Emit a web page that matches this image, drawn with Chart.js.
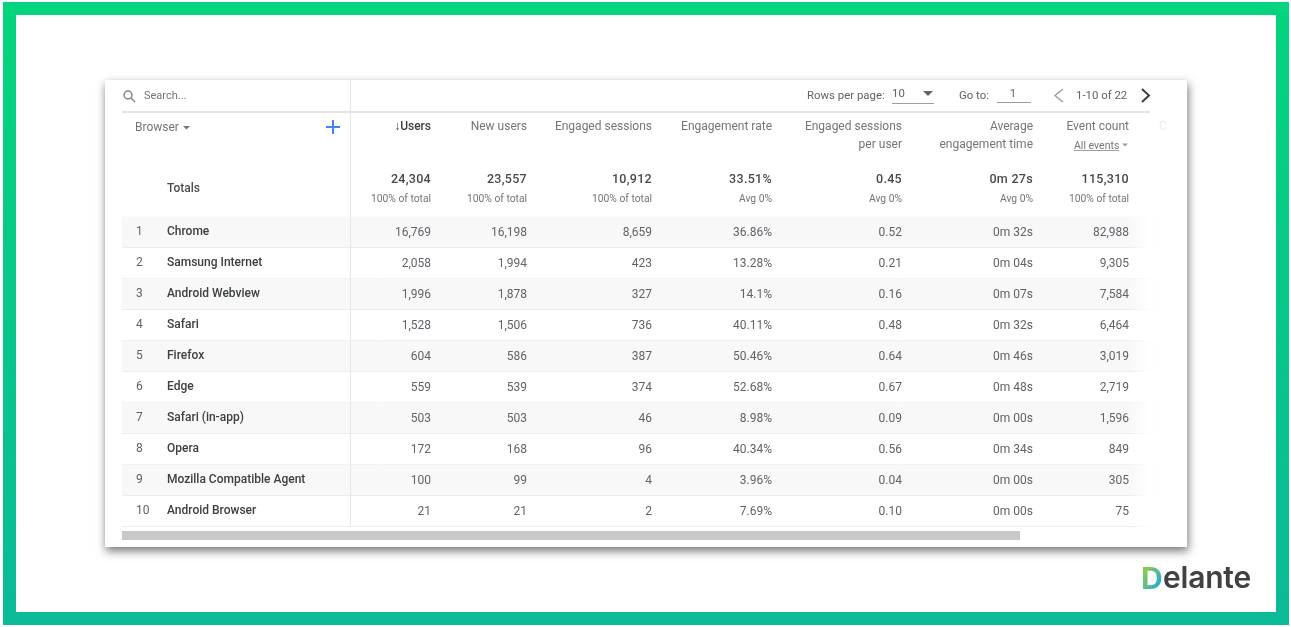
<!DOCTYPE html>
<html>
<head>
<meta charset="utf-8">
<title>Browser table</title>
<script src="https://cdn.jsdelivr.net/npm/chart.js@4/dist/chart.umd.min.js"></script>
<style>
  html, body { margin: 0; padding: 0; background: #fff; overflow: hidden; }
  #stage { position: relative; width: 1291px; height: 627px; }
  #frame { position: absolute; left: 3px; top: 2px; width: 1260px; height: 597px; border: 13px solid; border-image: linear-gradient(#04d47d, #0bba97) 1; }
  #card { position: absolute; left: 105px; top: 80px; width: 1082px; height: 467px; background: #fff; box-shadow: 1px 4px 9px rgba(0,0,0,.55); }
  canvas { position: absolute; left: 0; top: 0; }
</style>
</head>
<body>
<div id="stage">
  <div id="frame"></div>
  <div id="card"></div>
  <canvas id="chart" width="1291" height="627"></canvas>
</div>
<script>
// Datos de la tabla
const browsers = ['Chrome', 'Samsung Internet', 'Android Webview', 'Safari', 'Firefox', 'Edge', 'Safari (in-app)', 'Opera', 'Mozilla Compatible Agent', 'Android Browser'];
const columnNames = ['↓Users', 'New users', 'Engaged sessions', 'Engagement rate', ['Engaged sessions', 'per user'], ['Average', 'engagement time'], 'Event count'];
const users = [16769, 2058, 1996, 1528, 604, 559, 503, 172, 100, 21];
const newUsers = [16198, 1994, 1878, 1506, 586, 539, 503, 168, 99, 21];
const engagedSessions = [8659, 423, 327, 736, 387, 374, 46, 96, 4, 2];
const engagementRate = [36.86, 13.28, 14.1, 40.11, 50.46, 52.68, 8.98, 40.34, 3.96, 7.69];
const sessionsPerUser = [0.52, 0.21, 0.16, 0.48, 0.64, 0.67, 0.09, 0.56, 0.04, 0.10];
const engagementSeconds = [32, 4, 7, 32, 46, 48, 0, 34, 0, 0];
const eventCount = [82988, 9305, 7584, 6464, 3019, 2719, 1596, 849, 305, 75];
const totals = [24304, 23557, 10912, 33.51, 0.45, 27, 115310];
const totalNotes = ['100% of total', '100% of total', '100% of total', 'Avg 0%', 'Avg 0%', 'Avg 0%', '100% of total'];

// Layout: borde derecho de cada columna, en pixeles
const columnEdges = [431, 527, 652, 772, 902, 1033, 1129];

const fmtInt = v => v.toLocaleString('en-US');
const fmtPct = v => v + '%';
const fmtRatio = v => v.toFixed(2);
const fmtTime = v => '0m ' + String(v).padStart(2, '0') + 's';
const formats = [fmtInt, fmtInt, fmtInt, fmtPct, fmtRatio, fmtTime, fmtInt];
const series = [users, newUsers, engagedSessions, engagementRate, sessionsPerUser, engagementSeconds, eventCount];

function label(ctx, text, x, y, font, color, align = 'left', spacing = '0px') {
  ctx.font = font;
  ctx.fillStyle = color;
  ctx.textAlign = align;
  ctx.textBaseline = 'middle';
  ctx.letterSpacing = spacing;
  ctx.fillText(text, x, y);
  ctx.letterSpacing = '0px';
}

function line(ctx, x1, y1, x2, y2, color, width = 1) {
  ctx.strokeStyle = color;
  ctx.lineWidth = width;
  ctx.beginPath();
  ctx.moveTo(x1, y1);
  ctx.lineTo(x2, y2);
  ctx.stroke();
}

function triangle(ctx, x, y, w, h, color) {
  ctx.fillStyle = color;
  ctx.beginPath();
  ctx.moveTo(x - w / 2, y);
  ctx.lineTo(x + w / 2, y);
  ctx.lineTo(x, y + h);
  ctx.closePath();
  ctx.fill();
}

function fade(ctx, color) {
  const g = ctx.createLinearGradient(1130, 0, 1160, 0);
  g.addColorStop(0, color);
  g.addColorStop(1, 'rgba(255,255,255,0)');
  return g;
}

// Bandas y lineas de las filas (antes de las escalas, para no tapar los ticks)
const rowsPlugin = {
  id: 'rows',
  beforeDraw(chart) {
    const { ctx, scales: { y } } = chart;
    ctx.save();
    const step = y.getPixelForValue(1) - y.getPixelForValue(0);
    browsers.forEach((name, i) => {
      const mid = y.getPixelForValue(i);
      if (i % 2 === 0) {
        ctx.fillStyle = fade(ctx, '#f8f8f8');
        ctx.fillRect(122, mid - step / 2, 1038, step);
      }
      line(ctx, 122, Math.round(mid + step / 2) - 0.5, 1160, Math.round(mid + step / 2) - 0.5, fade(ctx, '#ededed'));
    });
    ctx.restore();
  }
};

// Texto de celdas, totales y controles de la tabla
const cellsPlugin = {
  id: 'cells',
  afterDatasetsDraw(chart) {
    const { ctx, scales: { x, y } } = chart;
    ctx.save();
    chart.data.datasets.forEach((ds, c) => {
      chart.getDatasetMeta(c).data.forEach((pt, i) => {
        label(ctx, formats[c](series[c][i]), pt.x, pt.y + 1, '12px Roboto', '#5f6368', 'right');
      });
    });
    browsers.forEach((name, i) => {
      label(ctx, String(i + 1), 136, y.getPixelForValue(i), '12px Roboto', '#5f6368');
    });
    totals.forEach((v, c) => {
      const px = x.getPixelForValue(columnEdges[c]);
      label(ctx, formats[c](v), px, 180, '500 12.5px Roboto', '#46494c', 'right', '0.3px');
      label(ctx, totalNotes[c], px, 199, '10.3px Roboto', '#70757a', 'right');
    });
    label(ctx, 'Totals', 167, 189, '500 12px Roboto', '#4a4d50');

    // separadores
    line(ctx, 122, 112, 1150, 112, '#e4e4e4', 2);
    line(ctx, 350.5, 80, 350.5, 526, '#e6e6e6');

    // barra superior
    ctx.strokeStyle = '#80868b';
    ctx.lineWidth = 1.5;
    ctx.beginPath();
    ctx.arc(128, 95, 4, 0, Math.PI * 2);
    ctx.moveTo(131, 98);
    ctx.lineTo(135, 102);
    ctx.stroke();
    label(ctx, 'Search...', 144, 96, '11px Roboto', '#757575');
    label(ctx, 'Rows per page:', 807, 96, '11.4px Roboto', '#5f6368');
    label(ctx, '10', 892, 94, '11.4px Roboto', '#5f6368');
    triangle(ctx, 928, 91, 10, 5, '#5f6368');
    line(ctx, 892, 103.5, 934, 103.5, '#9aa0a6');
    label(ctx, 'Go to:', 959, 96, '11.4px Roboto', '#5f6368');
    label(ctx, '1', 1013, 94, '11.4px Roboto', '#5f6368', 'center');
    line(ctx, 997, 102.5, 1031, 102.5, '#9aa0a6');
    label(ctx, '1-10 of 22', 1076, 96, '11.4px Roboto', '#5f6368');
    ctx.lineWidth = 1.5;
    ctx.strokeStyle = '#9aa0a6';
    ctx.beginPath();
    ctx.moveTo(1063, 89);
    ctx.lineTo(1055, 95.5);
    ctx.lineTo(1063, 102);
    ctx.stroke();
    ctx.lineWidth = 2;
    ctx.strokeStyle = '#3c4043';
    ctx.beginPath();
    ctx.moveTo(1142, 89);
    ctx.lineTo(1149, 95.5);
    ctx.lineTo(1142, 102);
    ctx.stroke();

    // cabecera de dimension
    label(ctx, 'Browser', 135, 128, '12px Roboto', '#757575');
    triangle(ctx, 186.5, 126, 7, 3.5, '#757575');
    line(ctx, 333, 120, 333, 134, '#4285f4', 2);
    line(ctx, 326, 127, 340, 127, '#4285f4', 2);

    // selector bajo Event count
    label(ctx, 'All events', 1074, 146, '10.5px Roboto', '#757575');
    line(ctx, 1074, 150.5, 1119, 150.5, '#9aa0a6');
    triangle(ctx, 1125, 143.5, 6, 3, '#9aa0a6');
    label(ctx, 'C', 1159, 127, '12px Roboto', '#ececec');

    // barra de scroll
    ctx.fillStyle = '#c8c8c8';
    ctx.fillRect(122, 531, 898, 9);

    // logo
    const logo = ctx.createLinearGradient(1143, 572, 1163, 586);
    logo.addColorStop(0, '#8ccb4e');
    logo.addColorStop(1, '#1aa7e0');
    label(ctx, 'D', 1141, 579.5, '700 30px Inter', logo);
    label(ctx, 'elante', 1163, 579, '600 30px Inter', '#3f4142', 'left', '-0.2px');
    ctx.restore();
  }
};

const columnDatasets = series.map((values, c) => ({
  label: Array.isArray(columnNames[c]) ? columnNames[c].join(' ') : columnNames[c],
  data: browsers.map((name, i) => ({ x: columnEdges[c], y: name })),
  pointRadius: 0,
  showLine: false
}));

new Chart(document.getElementById('chart'), {
  type: 'scatter',
  data: { datasets: columnDatasets },
  plugins: [rowsPlugin, cellsPlugin],
  options: {
    responsive: false,
    animation: false,
    events: [],
    layout: { padding: { left: 167, right: 141, top: 116.5, bottom: 100.5 } },
    plugins: { legend: { display: false }, tooltip: { enabled: false } },
    scales: {
      x: {
        type: 'linear',
        position: 'top',
        min: 351,
        max: 1150,
        afterBuildTicks: scale => { scale.ticks = columnEdges.map(v => ({ value: v })); },
        afterFit: scale => { scale.height = 100; },
        grid: { display: false, drawTicks: false },
        border: { display: false },
        ticks: {
          autoSkip: false,
          maxRotation: 0,
          align: 'end',
          crossAlign: 'far',
          padding: 62.5,
          font: ctx => ({ family: 'Roboto', size: 12, weight: ctx.index === 0 ? '500' : '400', lineHeight: 1.5 }),
          color: ctx => ctx.index === 0 ? '#3c4043' : '#757575',
          callback: (value, index) => columnNames[index]
        }
      },
      y: {
        type: 'category',
        labels: browsers,
        offset: true,
        afterFit: scale => { scale.width = 184; },
        grid: { display: false, drawTicks: false },
        border: { display: false },
        ticks: {
          autoSkip: false,
          crossAlign: 'far',
          padding: 0,
          font: { family: 'Roboto', size: 12, weight: '500' },
          color: '#3c4043'
        }
      }
    }
  }
});
</script>
</body>
</html>
